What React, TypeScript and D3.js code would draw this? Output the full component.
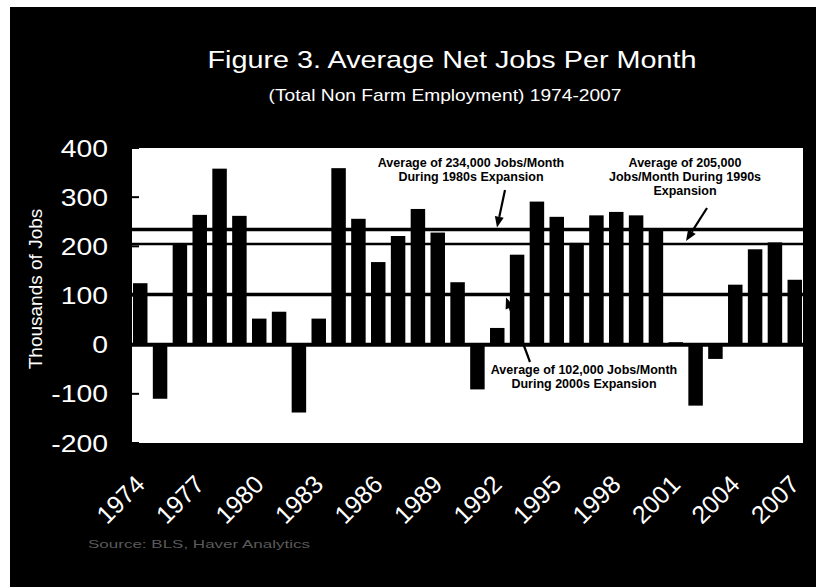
import React from 'react';
import * as d3 from 'd3';

const years = [1974, 1975, 1976, 1977, 1978, 1979, 1980, 1981, 1982, 1983, 1984, 1985, 1986, 1987, 1988, 1989, 1990, 1991, 1992, 1993, 1994, 1995, 1996, 1997, 1998, 1999, 2000, 2001, 2002, 2003, 2004, 2005, 2006, 2007];
const netJobs = [125, -110, 205, 264, 358, 262, 53, 67, -138, 53, 359, 256, 168, 221, 276, 228, 127, -91, 34, 183, 291, 260, 207, 263, 270, 263, 235, 5, -124, -29, 122, 194, 208, 132];
const yTicks = [400, 300, 200, 100, 0, -100, -200];
const xTickYears = [1974, 1977, 1980, 1983, 1986, 1989, 1992, 1995, 1998, 2001, 2004, 2007];
const averages = [234, 205, 102];
const averageWidths = [3.5, 2.5, 3.5];
const title = 'Figure 3. Average Net Jobs Per Month';
const subtitle = '(Total Non Farm Employment) 1974-2007';
const yTitle = 'Thousands of Jobs';
const note1980s = ['Average of 234,000 Jobs/Month', 'During 1980s Expansion'];
const note1990s = ['Average of 205,000', 'Jobs/Month During 1990s', 'Expansion'];
const note2000s = ['Average of 102,000 Jobs/Month', 'During 2000s Expansion'];
const source = 'Source: BLS, Haver Analytics';

const W = 816;
const H = 587;
const plot = { left: 132, right: 803, top: 148, bottom: 443 };
const FONT = 'Arial, "Liberation Sans", Helvetica, sans-serif';

export default function App() {
  const x = d3.scaleBand<number>().domain(years).range([plot.left, plot.right]).paddingInner(0.27).paddingOuter(0.05);
  const y = d3.scaleLinear().domain([-200, 400]).range([plot.bottom, plot.top]);
  const bw = x.bandwidth();

  const arrow = (x1: number, y1: number, x2: number, y2: number, key: string) => {
    const ang = Math.atan2(y2 - y1, x2 - x1);
    const len = 11;
    const half = 4.5;
    const bx = x2 - len * Math.cos(ang);
    const by = y2 - len * Math.sin(ang);
    const px = -Math.sin(ang) * half;
    const py = Math.cos(ang) * half;
    return (
      <g key={key}>
        <line x1={x1} y1={y1} x2={bx} y2={by} stroke="#000" strokeWidth={2.2} />
        <polygon points={`${x2},${y2} ${bx + px},${by + py} ${bx - px},${by - py}`} fill="#000" />
      </g>
    );
  };

  const note = (lines: string[], cx: number, y0: number, key: string) => (
    <text key={key} x={cx} y={y0} textAnchor="middle" fontFamily={FONT} fontWeight="bold" fontSize={12.5} fill="#000">
      {lines.map((l, i) => (
        <tspan key={i} x={cx} y={y0 + i * 14}>{l}</tspan>
      ))}
    </text>
  );

  return (
    <svg width={W} height={H} style={{ position: 'absolute', left: 0, top: 0, display: 'block' }}>
      <rect x={0} y={0} width={W} height={H} fill="#fff" />
      <rect x={10} y={7} width={W - 10} height={H - 7} fill="#000" />

      <text transform={`translate(452,68) scale(1.2,1)`} textAnchor="middle" fontFamily={FONT} fontSize={24} fill="#fff">{title}</text>
      <text transform={`translate(445,101) scale(1.2,1)`} textAnchor="middle" fontFamily={FONT} fontSize={16} fill="#fff">{subtitle}</text>

      <rect x={plot.left} y={plot.top} width={plot.right - plot.left} height={plot.bottom - plot.top} fill="#fff" />

      {years.map((yr, i) => {
        const v = netJobs[i];
        return (
          <rect key={yr} x={x(yr)} y={y(Math.max(0, v))} width={bw} height={Math.abs(y(v) - y(0))} fill="#000" />
        );
      })}

      {averages.map((a, i) => (
        <line key={a} x1={plot.left} x2={plot.right} y1={y(a)} y2={y(a)} stroke="#000" strokeWidth={averageWidths[i]} />
      ))}
      <line x1={plot.left} x2={plot.right} y1={y(0)} y2={y(0)} stroke="#000" strokeWidth={4} />

      {yTicks.map((t) => (
        <g key={t}>
          <line x1={plot.left} x2={plot.left + 7} y1={y(t)} y2={y(t)} stroke="#000" strokeWidth={2} />
          <text transform={`translate(108,${y(t)}) scale(1.18,1)`} dy="0.36em" textAnchor="end" fontFamily={FONT} fontSize={24} fill="#fff">{t}</text>
        </g>
      ))}

      <text transform={`translate(42,289) rotate(-90)`} textAnchor="middle" fontFamily={FONT} fontSize={19} fill="#fff">{yTitle}</text>

      {xTickYears.map((yr) => {
        const cx = (x(yr) as number) + bw / 2 + 6;
        return (
          <text key={yr} transform={`translate(${cx},486) rotate(-45)`} textAnchor="end" fontFamily={FONT} fontSize={25} fill="#fff">{yr}</text>
        );
      })}

      {note(note1980s, 471, 167, 'n80')}
      {note(note1990s, 685, 167, 'n90')}
      {note(note2000s, 584, 374, 'n00')}
      {arrow(505, 190, 497, y(averages[0]) - 2, 'a80')}
      {arrow(707, 208, 686, y(averages[1]) - 3, 'a90')}
      {arrow(530, 362, 506, y(averages[2]) + 3, 'a00')}

      <text x={88} y={548} fontFamily={FONT} fontSize={10.5} fill="#5a5a5a" textLength={222} lengthAdjust="spacingAndGlyphs">{source}</text>
    </svg>
  );
}
